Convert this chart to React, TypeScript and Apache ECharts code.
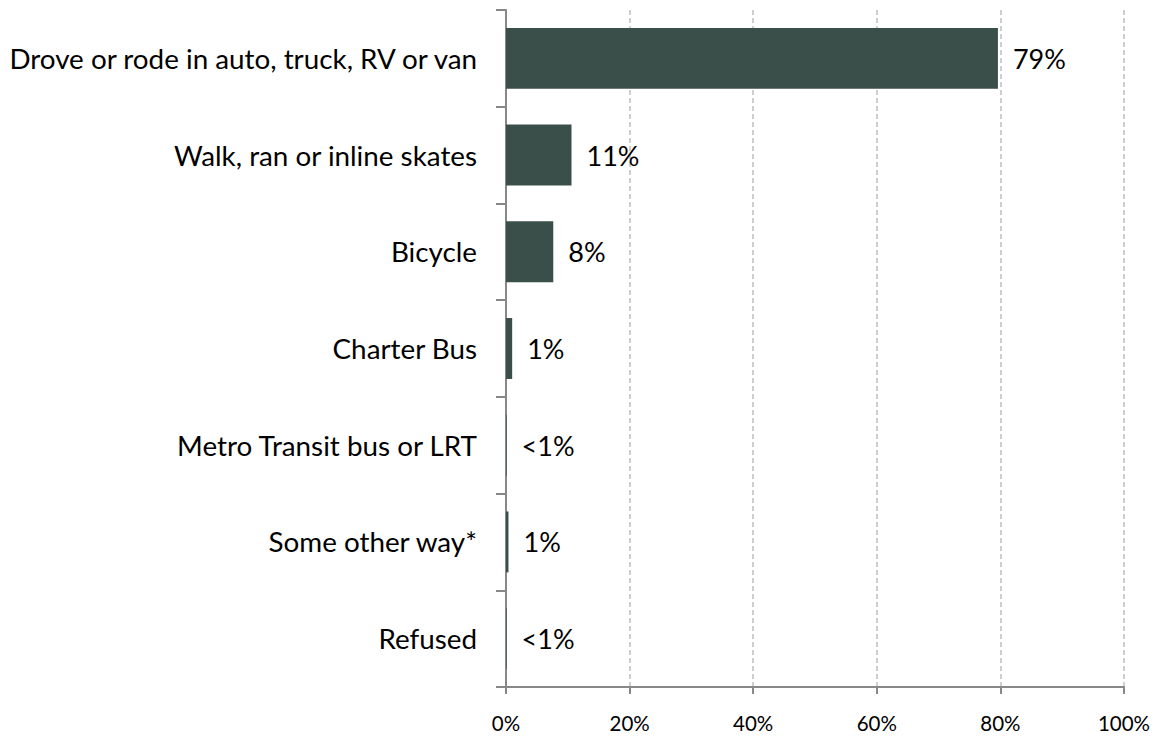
import React, { useEffect, useRef } from "react";
import * as echarts from "echarts";

const categories = [
  "Drove or rode in auto, truck, RV or van",
  "Walk, ran or inline skates",
  "Bicycle",
  "Charter Bus",
  "Metro Transit bus or LRT",
  "Some other way*",
  "Refused",
];
const values = [79.6, 10.6, 7.65, 1.0, 0.1, 0.4, 0.1];
const valueLabels = ["79%", "11%", "8%", "1%", "<1%", "1%", "<1%"];
const xTicks = [0, 20, 40, 60, 80, 100];

export default function App() {
  const ref = useRef<HTMLDivElement>(null);
  useEffect(() => {
    const chart = echarts.init(ref.current!, null, { renderer: "svg" });
    const axisColor = "#888888";
    const font = "Lato, 'Open Sans', sans-serif";
    chart.setOption({
      animation: false,
      grid: { left: 506, right: 33, top: 10, bottom: 50, containLabel: false },
      xAxis: {
        type: "value",
        min: xTicks[0],
        max: xTicks[xTicks.length - 1],
        interval: 20,
        axisLine: { show: true, lineStyle: { color: axisColor, width: 2 } },
        axisTick: { show: true, length: 7, lineStyle: { color: axisColor, width: 2 } },
        axisLabel: {
          formatter: (v: number) => v + "%",
          color: "#000",
          fontSize: 20.5,
          lineHeight: 18,
          fontFamily: font,
          margin: 27,
        },
        splitLine: { show: true, lineStyle: { color: "#c0c0c0", type: [5, 3], width: 1.5 } },
      },
      yAxis: {
        type: "category",
        inverse: true,
        data: categories,
        axisLine: { show: true, lineStyle: { color: axisColor, width: 2 } },
        axisTick: { show: true, length: 10, lineStyle: { color: axisColor, width: 2 } },
        axisLabel: {
          color: "#000",
          fontSize: 27.8,
          fontFamily: font,
          margin: 29,
        },
        splitLine: { show: false },
      },
      series: [
        {
          type: "bar",
          data: values,
          barWidth: "63%",
          itemStyle: { color: "#3b4f4a" },
          label: {
            show: true,
            position: "right",
            distance: 15,
            color: "#000",
            fontSize: 27,
            fontFamily: font,
            formatter: (p: any) => valueLabels[p.dataIndex],
          },
        },
      ],
    });
    return () => chart.dispose();
  }, []);
  return <div ref={ref} style={{ width: 1157, height: 737, position: "absolute", left: 0, top: 0 }} />;
}
